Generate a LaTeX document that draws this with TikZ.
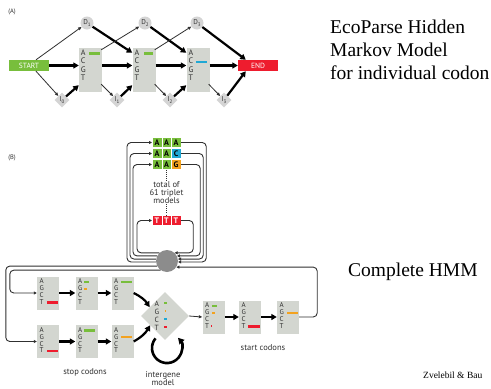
\documentclass[tikz,border=0pt]{standalone}
\usepackage{fontspec}
\setmainfont{Liberation Serif}
\newfontfamily\lab{PT Sans}
\usetikzlibrary{arrows.meta,shapes.geometric,calc}
\definecolor{cgreen}{HTML}{78BE3C}
\definecolor{cred}{HTML}{EE1C2E}
\definecolor{ccyan}{HTML}{1FA8D4}
\definecolor{corange}{HTML}{F3A21F}
\definecolor{cbox}{HTML}{D3D6D0}
\definecolor{cstate}{HTML}{D4D4D4}
\definecolor{ccirc}{HTML}{8C8C8C}
\definecolor{cline}{HTML}{303030}
\newcommand{\subl}[2]{#1\raisebox{-1.6pt}{\fontsize{5}{5}\selectfont #2}}
\begin{document}
\begin{tikzpicture}[x=1pt,y=1pt,
  boxA/.style={fill=cbox, draw=none, minimum width=23pt, minimum height=44pt, inner sep=0pt},
  boxB/.style={fill=cbox, draw=none, minimum width=22pt, minimum height=33pt, inner sep=0pt},
  letA/.style={font=\lab\fontsize{8}{8.5}\selectfont, align=left, inner sep=0pt, text=cline, anchor=north west},
  letB/.style={font=\lab\fontsize{7}{6.8}\selectfont, align=left, inner sep=0pt, text=cline, anchor=north west},
  dstate/.style={circle, fill=cstate, minimum size=13pt, inner sep=0pt, font=\lab\fontsize{7}{7}\selectfont, text=cline},
  istate/.style={diamond, fill=cstate, minimum width=15pt, minimum height=15pt, inner sep=0pt, font=\lab\fontsize{7}{7}\selectfont, text=cline},
  termbox/.style={minimum width=40pt, minimum height=11pt, inner sep=0pt, font=\lab\fontsize{7.5}{7.5}\selectfont, text=white},
  bigarr/.style={line width=2.2pt, -{Triangle[length=5.5pt,width=6pt]}},
  thinarr/.style={line width=0.8pt, cline, -{Triangle[length=3.5pt,width=3pt]}},
  loopline/.style={line width=0.9pt, cline, rounded corners=4pt},
  looparr/.style={loopline, -{Triangle[length=3pt,width=3pt]}},
  cell/.style={minimum width=9.5pt, minimum height=10pt, inner sep=0pt, draw=white, line width=0.5pt, font=\lab\bfseries\fontsize{8}{8}\selectfont},
  lbl/.style={font=\lab\fontsize{8.5}{8.3}\selectfont, text=cline, align=center, inner sep=0pt},
  bigtxt/.style={font=\fontsize{19.5}{23}\selectfont, align=left, inner sep=0pt}
]
\fill[white] (0,0) rectangle (491,-389);
\useasboundingbox (0,0) rectangle (491,-389);

% ---------------- Part A ----------------
\node[lbl, font=\lab\fontsize{6.5}{6.5}\selectfont] (labA) at (12,-12) {(A)};
\node[termbox, fill=cgreen] (START) at (29,-65.5) {START};
\node[termbox, fill=cred] (END) at (258,-65.5) {END};
\node[boxA] (b1) at (90.5,-70) {};
\node[boxA] (b2) at (144,-70) {};
\node[boxA] (b3) at (198,-70) {};
\node[letA] (b1t) at ($(b1.north west)+(2,-1.5)$) {A\\C\\G\\T};
\node[letA] (b2t) at ($(b2.north west)+(2,-1.5)$) {A\\C\\G\\T};
\node[letA] (b3t) at ($(b3.north west)+(2,-1.5)$) {A\\C\\G\\T};
\fill[cgreen] (89,-52) rectangle (100,-54.6);
\fill[cgreen] (144,-52) rectangle (153,-54.6);
\fill[ccyan] (196,-60.5) rectangle (207,-63.1);

\node[dstate] (D1) at (87,-23) {\subl{D}{1}};
\node[dstate] (D2) at (145,-23) {\subl{D}{2}};
\node[dstate] (D3) at (197,-23) {\subl{D}{3}};
\node[istate] (I0) at (62,-100) {\subl{I}{0}};
\node[istate] (I1) at (117,-100) {\subl{I}{1}};
\node[istate] (I2) at (170,-100) {\subl{I}{2}};
\node[istate] (I3) at (224,-100) {\subl{I}{3}};

\draw[thinarr] ($(START.north)+(7,0)$) -- (D1);
\draw[thinarr] ($(START.south)+(7,0)$) -- (I0);
\draw[bigarr] (START.east) -- (START.east -| b1.west);
\draw[bigarr] (b1.east |- START) -- (b2.west |- START);
\draw[bigarr] (b2.east |- START) -- (b3.west |- START);
\draw[bigarr] (b3.east |- START) -- (END.west);
\draw[bigarr] (D1) -- ($(b2.north west)+(0,-5)$);
\draw[bigarr] (D2) -- ($(b3.north west)+(0,-5)$);
\draw[bigarr] (D3) -- ($(END.north west)+(8,0)$);
\draw[thinarr] ($(b1.north east)+(-1,-2)$) -- (D2);
\draw[thinarr] ($(b2.north east)+(-1,-2)$) -- (D3);
\draw[bigarr] (I0) -- ($(b1.south west)+(0,7)$);
\draw[bigarr] (I1) -- ($(b2.south west)+(0,7)$);
\draw[bigarr] (I2) -- ($(b3.south west)+(0,7)$);
\draw[bigarr] (I3) -- ($(END.south west)+(8,0)$);
\draw[thinarr] ($(b1.south east)+(-1,8)$) -- (I1);
\draw[thinarr] ($(b2.south east)+(-1,8)$) -- (I2);
\draw[thinarr] ($(b3.south east)+(-1,8)$) -- (I3);

\node[bigtxt, anchor=north west] (titA) at (330,-20) {EcoParse Hidden\\Markov Model\\for individual codon};

% ---------------- Part B ----------------
\node[lbl, font=\lab\fontsize{6.5}{6.5}\selectfont] (labB) at (12,-158) {(B)};

% triplet models
\node[cell, fill=cgreen] (a1) at (157,-142.5) {A};
\node[cell, fill=cgreen] (a2) at (166.5,-142.5) {A};
\node[cell, fill=cgreen] (a3) at (176,-142.5) {A};
\node[cell, fill=cgreen] (c1) at (157,-153.5) {A};
\node[cell, fill=cgreen] (c2) at (166.5,-153.5) {A};
\node[cell, fill=ccyan] (c3) at (176,-153.5) {C};
\node[cell, fill=cgreen] (g1) at (157,-164.5) {A};
\node[cell, fill=cgreen] (g2) at (166.5,-164.5) {A};
\node[cell, fill=corange] (g3) at (176,-164.5) {G};
\node[cell, fill=cred, text=white] (t1) at (157,-220.5) {T};
\node[cell, fill=cred, text=white] (t2) at (166.5,-220.5) {T};
\node[cell, fill=cred, text=white] (t3) at (176,-220.5) {T};
\node[lbl] (tot) at (166.5,-192.5) {total of\\61 triplet\\models};
\draw[cline, line width=1.3pt, dash pattern=on 1pt off 1.1pt] (g2.south) -- (tot.north);
\draw[cline, line width=1.3pt, dash pattern=on 1pt off 1.1pt] (tot.south) -- (t2.north);

\node[circle, fill=ccirc, minimum size=22pt, inner sep=0pt] (circ) at (167,-261) {};

% loops around triplets
\draw[looparr] (circ.185) -| ($(a1.west)+(-25,0)$) -- (a1.west);
\draw[looparr] (circ.170) -| ($(c1.west)+(-22,0)$) -- (c1.west);
\draw[looparr] (circ.153) -| ($(g1.west)+(-19,0)$) -- (g1.west);
\draw[looparr] (circ.133) -| ($(t1.west)+(-15,0)$) -- (t1.west);
\draw[looparr] (a3.east) -- ++(25.25,0) |- (circ.-5);
\draw[looparr] (c3.east) -- ++(22.25,0) |- (circ.10);
\draw[looparr] (g3.east) -- ++(19.25,0) |- (circ.27);
\draw[looparr] (t3.east) -- ++(12.25,0) |- (circ.47);

% stop codons
\node[boxB] (s1) at (48,-293) {};
\node[boxB] (s2) at (86.5,-293) {};
\node[boxB] (s3) at (122.5,-293) {};
\node[boxB] (l1) at (48,-341.5) {};
\node[boxB] (l2) at (86.5,-341.5) {};
\node[boxB] (l3) at (122.5,-341.5) {};
\foreach \b in {s1,s2,s3,l1,l2,l3} {
  \node[letB] (\b t) at ($(\b.north west)+(2.5,-2.5)$) {A\\G\\C\\T};
}
\fill[cred] (47,-301.2) rectangle (58,-303.7);
\fill[cgreen] (84,-281) rectangle (88.5,-283.3);
\fill[corange] (84,-287.7) rectangle (86.5,-290);
\fill[cgreen] (121,-281) rectangle (131.5,-283.4);
\fill[cred] (47,-349.5) rectangle (58,-352);
\fill[cgreen] (84,-329.2) rectangle (95,-331.6);
\fill[corange] (121,-335.8) rectangle (132,-338.2);

% start codons
\node[boxB] (st1) at (213.5,-317) {};
\node[boxB] (st2) at (250,-317) {};
\node[boxB] (st3) at (288,-317) {};
\foreach \b in {st1,st2,st3} {
  \node[letB] (\b t) at ($(\b.north west)+(2.5,-2.5)$) {A\\G\\C\\T};
}
\fill[cgreen] (212,-304.8) rectangle (217,-307);
\fill[corange] (212,-311.5) rectangle (215,-313.8);
\fill[cred] (210.8,-324.8) rectangle (212.2,-327.4);
\fill[cred] (248,-325) rectangle (260,-327.5);
\fill[corange] (287,-311.5) rectangle (298,-314);

% intergene diamond
\node[diamond, fill=cbox, minimum width=48pt, minimum height=48pt, inner sep=0pt] (dia) at (165,-316) {};
\node[letB, font=\lab\fontsize{7.5}{8}\selectfont] (diat) at (154.5,-300.5) {A\\G\\C\\T};
\fill[cgreen] (164,-301.5) rectangle (167,-304);
\fill[corange] (164.5,-309.5) rectangle (166,-312);
\fill[ccyan] (164,-317.5) rectangle (167,-320);
\fill[cred] (164,-325.5) rectangle (167,-328);

% arrows
\draw[bigarr] (s1) -- (s2);
\draw[bigarr] (s2) -- (s3);
\draw[bigarr] (l1) -- (l2);
\draw[bigarr] (l2) -- (l3);
\draw[bigarr] (st1) -- (st2);
\draw[bigarr] (st2) -- (st3);
\draw[bigarr] (s3.east) to[bend left=15] (dia.150);
\draw[bigarr] (l3.east) to[bend right=15] (dia.212);
\draw[thinarr] (dia.east) -- (st1.west);
\draw[line width=2.6pt, -{Triangle[length=6pt,width=6.5pt]}] (155.5,-338.4) arc[start angle=140, end angle=403, radius=15];

% long connections
\draw[looparr] (circ.207) -| ($(l1.west)+(-31,0)$) -- (l1.west);
\draw[looparr] (circ.235) -| ($(s1.west)+(-27,0)$) -- (s1.west);
\draw[looparr] (st3.east) -- ++(18,0) |- (circ.-33);

% labels
\node[lbl] (stoplbl) at (85,-372) {stop codons};
\node[lbl] (interlbl) at (163,-378.5) {intergene\\model};
\node[lbl] (startlbl) at (263,-348) {start codons};

\node[bigtxt, anchor=west] (titB) at (348,-272) {Complete HMM};
\node[font=\fontsize{9.5}{10}\selectfont, anchor=west, inner sep=0pt] (cite) at (423,-375) {Zvelebil \& Bau};
\end{tikzpicture}
\end{document}
